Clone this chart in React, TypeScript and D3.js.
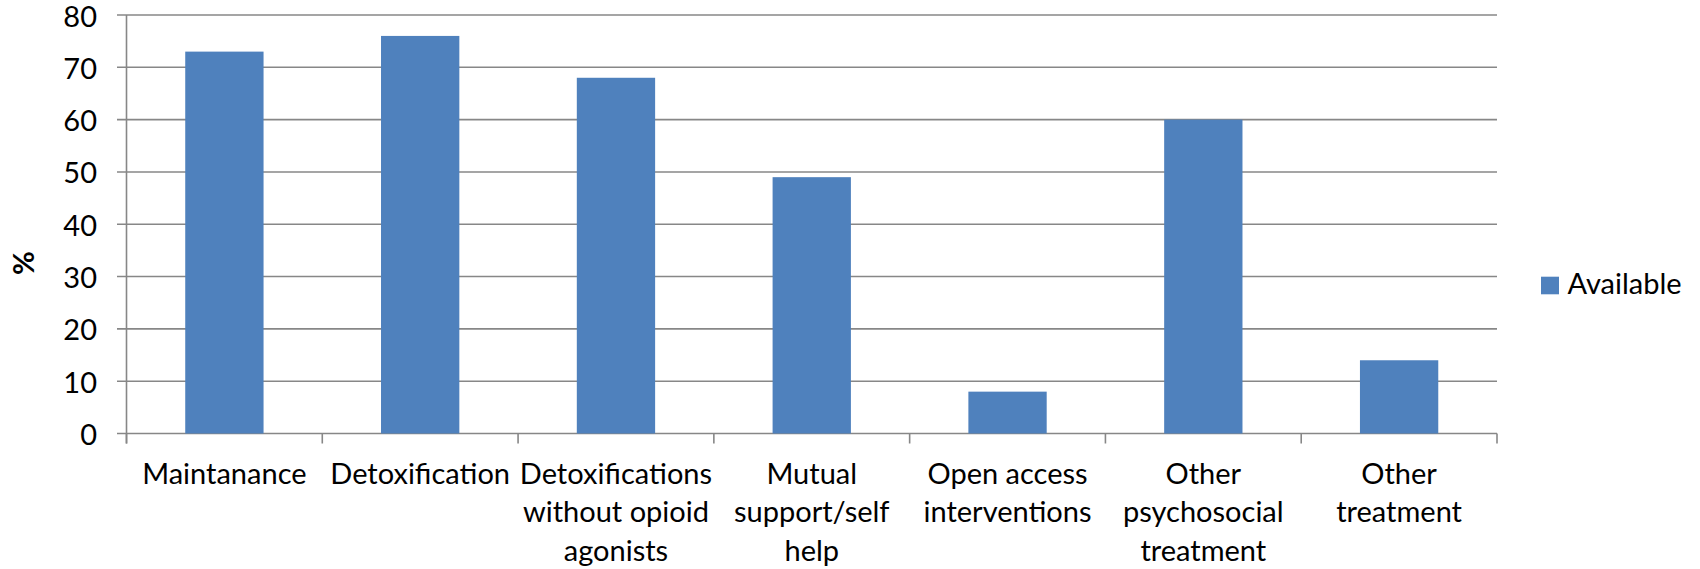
import React from "react";
import * as d3 from "d3";

const categories: string[][] = [
  ["Maintanance"],
  ["Detoxification"],
  ["Detoxifications", "without opioid", "agonists"],
  ["Mutual", "support/self", "help"],
  ["Open access", "interventions"],
  ["Other", "psychosocial", "treatment"],
  ["Other", "treatment"],
];
const values: number[] = [73, 76, 68, 49, 8, 60, 14];
const yTicks: number[] = [0, 10, 20, 30, 40, 50, 60, 70, 80];
const seriesName = "Available";
const yTitle = "%";

const W = 1700;
const H = 569;
const left = 126.5;
const right = 1497;
const top = 15;
const bottom = 433.5;
const FONT = "Lato, Carlito, Calibri, sans-serif";
const FS = 29;
const GRID = "#878787";
const BAR = "#4F81BD";

export default function App() {
  const keys = categories.map((c) => c.join(" "));
  const x = d3
    .scaleBand<string>()
    .domain(keys)
    .range([left, right])
    .paddingInner(0.6)
    .paddingOuter(0.3);
  const y = d3.scaleLinear().domain([0, 80]).range([bottom, top]);
  const step = (right - left) / keys.length;

  return (
    <svg
      width={W}
      height={H}
      style={{ position: "absolute", left: 0, top: 0, background: "#fff" }}
      fontFamily={FONT}
    >
      <rect x={0} y={0} width={W} height={H} fill="#fff" />
      {/* gridlines */}
      {yTicks.map((t) => (
        <line
          key={"g" + t}
          x1={left - 9.5}
          x2={right}
          y1={y(t)}
          y2={y(t)}
          stroke={GRID}
          strokeWidth={1.6}
        />
      ))}
      {/* y axis line */}
      <line x1={left} x2={left} y1={top} y2={bottom + 10} stroke={GRID} strokeWidth={1.6} />
      {/* x category ticks */}
      {d3.range(keys.length + 1).map((i) => (
        <line
          key={"xt" + i}
          x1={left + i * step}
          x2={left + i * step}
          y1={bottom}
          y2={bottom + 10}
          stroke={GRID}
          strokeWidth={1.6}
        />
      ))}
      {/* bars */}
      {values.map((v, i) => (
        <rect
          key={"b" + i}
          x={x(keys[i])!}
          width={x.bandwidth()}
          y={y(v)}
          height={bottom - y(v)}
          fill={BAR}
        />
      ))}
      {/* y tick labels */}
      {yTicks.map((t) => (
        <text
          key={"yl" + t}
          x={97}
          y={y(t)}
          textAnchor="end"
          dominantBaseline="central"
          fontSize={FS}
          fill="#000"
        >
          {t}
        </text>
      ))}
      {/* x labels */}
      {categories.map((lines, i) => (
        <text
          key={"xl" + i}
          x={x(keys[i])! + x.bandwidth() / 2}
          y={484}
          textAnchor="middle"
          fontSize={FS}
          fill="#000"
        >
          {lines.map((l, j) => (
            <tspan key={j} x={x(keys[i])! + x.bandwidth() / 2} dy={j === 0 ? 0 : 38.3}>
              {l}
            </tspan>
          ))}
        </text>
      ))}
      {/* y title */}
      <text
        transform={`translate(34,263) rotate(-90)`}
        textAnchor="middle"
        fontSize={FS}
        fontWeight="bold"
        fill="#000"
      >
        {yTitle}
      </text>
      {/* legend */}
      <rect x={1541} y={276.7} width={18} height={17.6} fill={BAR} />
      <text x={1567.5} y={294} fontSize={FS} fill="#000">
        {seriesName}
      </text>
    </svg>
  );
}
